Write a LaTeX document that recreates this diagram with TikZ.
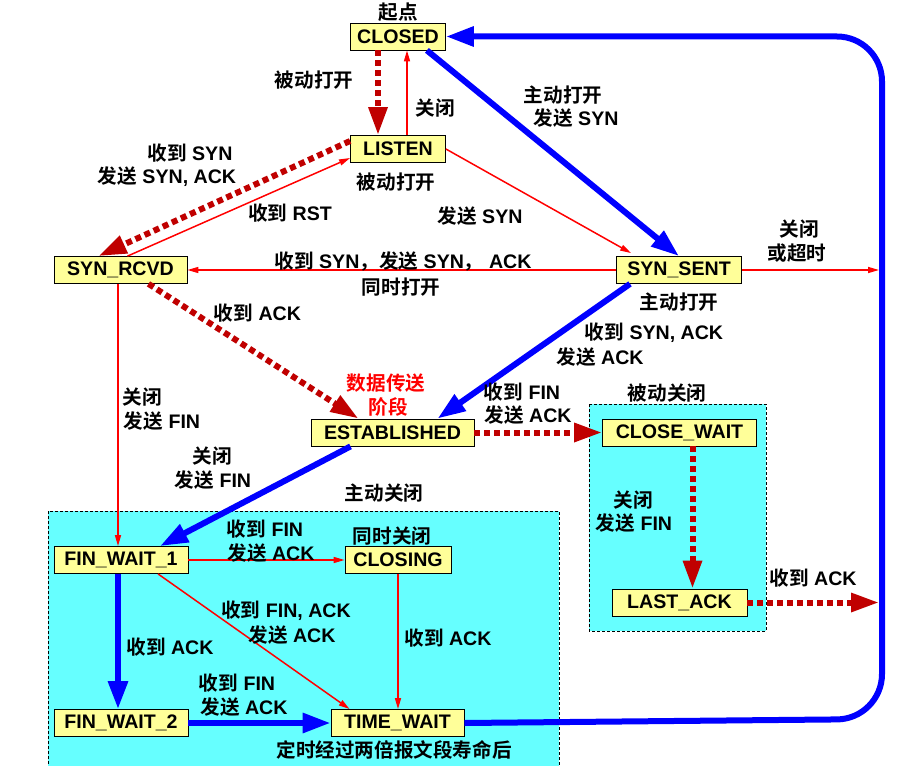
\documentclass[tikz,border=0pt]{standalone}
\usepackage{fontspec}
\setmainfont{Liberation Sans}
\newfontfamily\cjkfont{Noto Sans CJK SC Bold}
\usetikzlibrary{arrows.meta}
\newcommand\zh[1]{{\cjkfont\mdseries #1}}
\definecolor{boxyel}{HTML}{FFFF99}
\definecolor{regcyan}{HTML}{66FFFF}
\definecolor{dred}{HTML}{C00000}
\definecolor{pureblue}{HTML}{0000FF}
\definecolor{purered}{HTML}{FF0000}
\tikzset{
  state/.style={draw=black, line width=0.8pt, fill=boxyel, inner sep=0pt, minimum height=27pt, font=\fontsize{19.6}{23}\selectfont\bfseries},
  lbl/.style={inner sep=0pt, font=\fontsize{19.6}{23}\selectfont\bfseries},
  thinred/.style={draw=purered, line width=1.5pt, -{Triangle[length=11pt,width=6pt]}},
  dotred/.style={draw=dred, line width=6pt, dash pattern=on 6pt off 4pt, -{Triangle[length=28pt,width=18pt]}},
  bluearr/.style={draw=pureblue, line width=6pt, -{Triangle[length=28pt,width=19pt]}},
  region/.style={draw=black, fill=regcyan, dash pattern=on 3pt off 2pt, line width=0.8pt},
}
\begin{document}
\begin{tikzpicture}[x=1pt,y=-1pt]
\useasboundingbox (0,0) rectangle (904,765);
\fill[white] (0,0) rectangle (904,765);
% regions
\path[region] (48,511) rectangle (559,790);
\path[region] (589,404) rectangle (766,631);
% states
\node[state, minimum width=95pt] (closed) at (398,36.5) {CLOSED};
\node[state, minimum width=95pt] (listen) at (398,149) {LISTEN};
\node[state, minimum width=133pt] (synrcvd) at (120.5,270) {SYN\_RCVD};
\node[state, minimum width=125pt] (synsent) at (679,270) {SYN\_SENT};
\node[state, minimum width=163pt] (est) at (392.5,432.5) {ESTABLISHED};
\node[state, minimum width=154pt] (closewait) at (679.5,432.5) {CLOSE\_WAIT};
\node[state, minimum width=135pt] (lastack) at (679.5,602.5) {LAST\_ACK};
\node[state, minimum width=134pt] (fw1) at (121,560) {FIN\_WAIT\_1};
\node[state, minimum width=106pt] (closing) at (398,560) {CLOSING};
\node[state, minimum width=134pt] (fw2) at (121,723) {FIN\_WAIT\_2};
\node[state, minimum width=133pt] (timewait) at (397.5,723) {TIME\_WAIT};
% free ends on the right loop
\coordinate (rb) at (882,719);
\coordinate (rt) at (882,36.5);
\coordinate (rs) at (879,270);
\coordinate (ra) at (879,602.5);
% connectors
\draw[dotred] ([xshift=-20pt]closed.south) -- ([xshift=-20pt]listen.north);
\draw[thinred] ([xshift=9pt]listen.north) -- ([xshift=9pt]closed.south);
\draw[bluearr] ([xshift=-19pt]closed.south east) -- (synsent.north);
\draw[dotred] ([yshift=8pt]listen.west) -- ([xshift=-22pt]synrcvd.north);
\draw[thinred] ([xshift=7pt]synrcvd.north) -- ([yshift=-9pt]listen.west);
\draw[thinred] (listen.east) -- ([xshift=15pt,yshift=3pt]synsent.north west);
\draw[thinred] (synsent.west) -- (synrcvd.east);
\draw[thinred] (synsent.east) -- (rs);
\draw[dotred] ([xshift=28pt]synrcvd.south) -- ([xshift=-34pt]est.north);
\draw[bluearr] ([xshift=-49pt]synsent.south) -- ([xshift=45pt]est.north);
\draw[dotred] (est.east) -- (closewait.west);
\draw[bluearr] ([xshift=-42pt]est.south) -- ([xshift=39pt]fw1.north);
\draw[thinred] ([xshift=-2.5pt]synrcvd.south) -- ([xshift=-3pt]fw1.north);
\draw[dotred] ([xshift=13pt]closewait.south) -- ([xshift=13pt]lastack.north);
\draw[dotred] (lastack.east) -- (ra);
\draw[thinred] (fw1.east) -- (closing.west);
\draw[thinred] ([xshift=37pt]fw1.south) -- ([xshift=19pt]timewait.north west);
\draw[thinred] (closing.south) -- (closing.south |- timewait.north);
\draw[bluearr] ([xshift=-3pt]fw1.south) -- ([xshift=-3pt]fw2.north);
\draw[bluearr] (fw2.east) -- (timewait.west);
\draw[bluearr, rounded corners=45pt] (timewait.east) -- (rb) -- (rt) -- (closed.east);
% labels
\node[lbl] (t1) at (398,12) {\zh{起点}};
\node[lbl] (t2) at (314,80) {\zh{被动打开}};
\node[lbl] (t3) at (435.5,108) {\zh{关闭}};
\node[lbl] (t4) at (563,95) {\zh{主动打开}};
\node[lbl] (t5) at (576,118) {\zh{发送} SYN};
\node[lbl] (t6) at (396,182) {\zh{被动打开}};
\node[lbl] (t7) at (190,153) {\zh{收到} SYN};
\node[lbl] (t8) at (167,177) {\zh{发送} SYN, ACK};
\node[lbl] (t9) at (290,213) {\zh{收到} RST};
\node[lbl] (t10) at (480,216) {\zh{发送} SYN};
\node[lbl] (t11) at (403,261) {\zh{收到} SYN\zh{，发送} SYN\zh{，} ACK};
\node[lbl] (t12) at (401,287) {\zh{同时打开}};
\node[lbl] (t13) at (799,229) {\zh{关闭}};
\node[lbl] (t14) at (797,253) {\zh{或超时}};
\node[lbl] (t15) at (679,302) {\zh{主动打开}};
\node[lbl] (t16) at (257.5,313) {\zh{收到} ACK};
\node[lbl] (t17) at (654,333) {\zh{收到} SYN, ACK};
\node[lbl] (t18) at (600,357) {\zh{发送} ACK};
\node[lbl, text=purered] (t19) at (386,383) {\zh{数据传送}};
\node[lbl, text=purered] (t20) at (388,407) {\zh{阶段}};
\node[lbl] (t21) at (522,392) {\zh{收到} FIN};
\node[lbl] (t22) at (528,415) {\zh{发送} ACK};
\node[lbl] (t23) at (667,393) {\zh{被动关闭}};
\node[lbl] (t24) at (142,397) {\zh{关闭}};
\node[lbl] (t25) at (162,421) {\zh{发送} FIN};
\node[lbl] (t26) at (212,456) {\zh{关闭}};
\node[lbl] (t27) at (213,480) {\zh{发送} FIN};
\node[lbl] (t28) at (384,493) {\zh{主动关闭}};
\node[lbl] (t29) at (633,500) {\zh{关闭}};
\node[lbl] (t30) at (634,523) {\zh{发送} FIN};
\node[lbl] (t31) at (813,578) {\zh{收到} ACK};
\node[lbl] (t32) at (265,529) {\zh{收到} FIN};
\node[lbl] (t33) at (271,553) {\zh{发送} ACK};
\node[lbl] (t34) at (392,536) {\zh{同时关闭}};
\node[lbl] (t35) at (286,611) {\zh{收到} FIN, ACK};
\node[lbl] (t36) at (292,635) {\zh{发送} ACK};
\node[lbl] (t37) at (448,638) {\zh{收到} ACK};
\node[lbl] (t38) at (170,647) {\zh{收到} ACK};
\node[lbl] (t39) at (237,683) {\zh{收到} FIN};
\node[lbl] (t40) at (244,707) {\zh{发送} ACK};
\node[lbl] (t41) at (394,750) {\zh{定时经过两倍报文段寿命后}};
\end{tikzpicture}
\end{document}
